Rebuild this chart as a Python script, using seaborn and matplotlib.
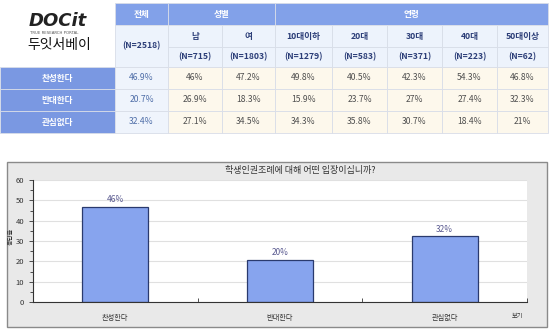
import matplotlib
matplotlib.use("Agg")
import matplotlib.pyplot as plt
import seaborn as sns
import pandas as pd
from matplotlib.patches import Rectangle

sns.set_style("white")
plt.rcParams['font.family'] = ['Noto Sans CJK KR', 'DejaVu Sans']

# ---- data ----
answers = ["찬성한다", "반대한다", "관심없다"]
group_headers = ["전체", "성별", "연령"]
sub_headers = ["남", "여", "10대이하", "20대", "30대", "40대", "50대이상"]
n_labels = ["(N=2518)", "(N=715)", "(N=1803)", "(N=1279)", "(N=583)", "(N=371)", "(N=223)", "(N=62)"]
total_pct = ["46.9%", "20.7%", "32.4%"]
male_pct = ["46%", "26.9%", "27.1%"]
female_pct = ["47.2%", "18.3%", "34.5%"]
teen_pct = ["49.8%", "15.9%", "34.3%"]
twenties_pct = ["40.5%", "23.7%", "35.8%"]
thirties_pct = ["42.3%", "27%", "30.7%"]
forties_pct = ["54.3%", "27.4%", "18.4%"]
fifties_pct = ["46.8%", "32.3%", "21%"]
chart_title = "학생인권조례에 대해 어떤 입장이십니까?"
chart_values = [46.9, 20.7, 32.4]
bar_labels = ["46%", "20%", "32%"]
y_ticks = [0, 10, 20, 30, 40, 50, 60]

W, H = 550, 329
fig = plt.figure(figsize=(W / 100, H / 100), dpi=100)

# ---- table (pixel-coordinate overlay) ----
tab = fig.add_axes([0, 0, 1, 1])
tab.set_xlim(0, W)
tab.set_ylim(H, 0)
tab.axis("off")

hdr_blue = "#82a1e9"
lbl_blue = "#7a98e2"
sub_bg = "#edf3fc"
tot_bg = "#eff4fc"
cream = "#fdf8ec"
edge = "#d8dde8"
navy = "#2c3e78"

col_x = [115, 168, 222, 275, 332, 387, 442, 497, 548]
row_y = [3, 25, 47, 67, 89, 111, 133]

def cell(x0, y0, x1, y1, fc, text="", color="k", bold=False, size=6.2):
    tab.add_patch(Rectangle((x0, y0), x1 - x0, y1 - y0, facecolor=fc,
                            edgecolor=edge, linewidth=0.6))
    if text:
        tab.text((x0 + x1) / 2, (y0 + y1) / 2, text, ha="center", va="center",
                 color=color, fontsize=size, fontweight="bold" if bold else "normal")

# group header row
cell(col_x[0], row_y[0], col_x[1], row_y[1], hdr_blue, group_headers[0], "white", True)
cell(col_x[1], row_y[0], col_x[3], row_y[1], hdr_blue, group_headers[1], "white", True)
cell(col_x[3], row_y[0], col_x[8], row_y[1], hdr_blue, group_headers[2], "white", True)
# total N spanning two rows
cell(col_x[0], row_y[1], col_x[1], row_y[3], sub_bg, n_labels[0], navy, True)
for i, name in enumerate(sub_headers):
    cell(col_x[i + 1], row_y[1], col_x[i + 2], row_y[2], sub_bg, name, navy, True)
    cell(col_x[i + 1], row_y[2], col_x[i + 2], row_y[3], sub_bg, n_labels[i + 1], navy, True)

columns = [total_pct, male_pct, female_pct, teen_pct, twenties_pct,
           thirties_pct, forties_pct, fifties_pct]
for r, ans in enumerate(answers):
    y0, y1 = row_y[r + 3], row_y[r + 4]
    cell(0, y0, col_x[0], y1, lbl_blue, ans, "white", True)
    for c, col in enumerate(columns):
        if c == 0:
            cell(col_x[c], y0, col_x[c + 1], y1, tot_bg, col[r], "#4f6ea8")
        else:
            cell(col_x[c], y0, col_x[c + 1], y1, cream, col[r], "#505050")

# logo
tab.text(29, 21, "DOCit", fontsize=13, fontweight="bold", color="#222222",
         ha="left", va="center", family="DejaVu Sans", style="italic")
tab.text(30, 33, "TRUE RESEARCH PORTAL", fontsize=2.8, color="#555555",
         ha="left", va="center", family="DejaVu Sans")
tab.text(27, 45, "두잇서베이", fontsize=10, color="#111111", ha="left", va="center")

# chart frame
tab.add_patch(Rectangle((7, 162), 540, 165, facecolor="#e9e9e9",
                        edgecolor="#8a8a8a", linewidth=1.0))
tab.text(300, 171, chart_title, ha="center", va="center", fontsize=6.5, color="#333333")
tab.text(11, 236, "응답율", rotation=90, ha="center", va="center", fontsize=4.5, color="#333333")
tab.text(518, 316, "보기", ha="center", va="center", fontsize=4.5, color="#333333")

# ---- bar chart ----
ax = fig.add_axes([33 / W, 1 - 302 / H, (527 - 33) / W, (302 - 180) / H])
df = pd.DataFrame({"answer": answers, "value": chart_values})
sns.barplot(data=df, x="answer", y="value", ax=ax, color="#87a4ee",
            edgecolor="#2a3a6e", linewidth=0.9, width=0.4, saturation=1)
ax.set_facecolor("white")
ax.set_ylim(0, 60)
ax.set_xlim(-0.5, 2.5)
ax.set_yticks(y_ticks)
ax.set_yticks(range(5, 60, 10), minor=True)
ax.yaxis.grid(True, color="#e0e0e0", linewidth=0.8)
ax.set_axisbelow(True)
ax.set_xlabel("")
ax.set_ylabel("")
for s in ["top", "right"]:
    ax.spines[s].set_visible(False)
for s in ["left", "bottom"]:
    ax.spines[s].set_color("#333333")
    ax.spines[s].set_linewidth(0.8)
ax.tick_params(axis="y", which="both", left=True, length=3, width=0.6,
               labelsize=5.5, colors="#333333", direction="out")
ax.tick_params(axis="y", which="minor", length=2)
ax.set_xticks([0.5, 1.5, 2.5])
ax.set_xticklabels([])
ax.tick_params(axis="x", which="major", bottom=True, direction="in", length=3,
               width=0.6, color="#333333")
for i, (lab, v) in enumerate(zip(bar_labels, chart_values)):
    ax.text(i, v + 1.2, lab, ha="center", va="bottom", fontsize=6, color="#5a5a90")
for i, a in enumerate(answers):
    ax.text(i, -6, a, ha="center", va="top", fontsize=5.2, color="#333333")

fig.savefig("out.png", dpi=100)
